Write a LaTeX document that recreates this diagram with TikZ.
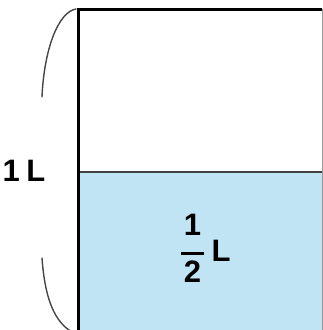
\documentclass[tikz,border=0pt]{standalone}
\usepackage{fontspec}
\setmainfont{Liberation Sans}
\definecolor{water}{RGB}{192,228,244}
\definecolor{arcgray}{RGB}{70,70,70}
\begin{document}
\begin{tikzpicture}[x=1pt,y=-1pt,
  lbl/.style={inner sep=0pt,font=\bfseries\fontsize{31}{31}\selectfont},
  brace/.style={draw=arcgray,line width=1.4pt,line cap=round}]
\useasboundingbox (0,0) rectangle (323,330);
% water
\fill[water] (78,172) rectangle (322,331);
% container
\draw[line width=1.3pt,black!75] (78,172) -- (322,172);
\draw[line width=0.8pt,black!40] (322.5,9) -- (322.5,331);
\draw[line width=3pt] (78.5,331) -- (78.5,9) -- (322,9);
% brace arcs
\coordinate (t0) at (76,9);
\coordinate (t1) at (42,97);
\coordinate (b0) at (42,258);
\coordinate (b1) at (72,332);
\draw[brace] (t0) .. controls (58,12) and (44,50) .. (t1);
\draw[brace] (b0) .. controls (45,300) and (55,322) .. (b1);
% labels
\node[lbl] (one) at (24,170.5) {1\kern-2pt\ L};
\node[lbl] (num) at (192.5,224.5) {1};
\node[lbl] (den) at (192.5,271.5) {2};
\coordinate (barl) at (181,253);
\coordinate (barr) at (204,253);
\draw[line width=3pt] (barl) -- (barr);
\node[lbl] (half) at (221,251) {L};
\end{tikzpicture}
\end{document}
